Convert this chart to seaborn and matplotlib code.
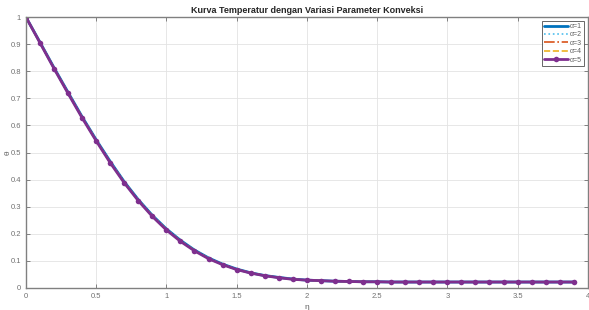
import numpy as np
import pandas as pd
import matplotlib
matplotlib.use("Agg")
import matplotlib.pyplot as plt
import seaborn as sns

# ----- Dati -----
eta = [round(0.1 * i, 1) for i in range(40)]

theta_a5 = [1.000, 0.905, 0.810, 0.718, 0.628, 0.543, 0.462, 0.388, 0.322, 0.264,
            0.214, 0.172, 0.137, 0.108, 0.086, 0.068, 0.055, 0.045, 0.038, 0.032,
            0.029, 0.027, 0.025, 0.024, 0.023, 0.023, 0.022, 0.022, 0.022, 0.022,
            0.022, 0.022, 0.022, 0.022, 0.022, 0.022, 0.022, 0.022, 0.022, 0.022]
theta_a4 = [1.000, 0.905, 0.811, 0.719, 0.629, 0.544, 0.463, 0.389, 0.323, 0.265,
            0.215, 0.173, 0.138, 0.109, 0.086, 0.068, 0.055, 0.045, 0.038, 0.032,
            0.029, 0.027, 0.025, 0.024, 0.023, 0.023, 0.022, 0.022, 0.022, 0.022,
            0.022, 0.022, 0.022, 0.022, 0.022, 0.022, 0.022, 0.022, 0.022, 0.022]
theta_a3 = [1.000, 0.906, 0.811, 0.720, 0.630, 0.545, 0.464, 0.390, 0.324, 0.266,
            0.216, 0.174, 0.139, 0.109, 0.087, 0.069, 0.056, 0.046, 0.038, 0.032,
            0.029, 0.027, 0.025, 0.024, 0.023, 0.023, 0.022, 0.022, 0.022, 0.022,
            0.022, 0.022, 0.022, 0.022, 0.022, 0.022, 0.022, 0.022, 0.022, 0.022]
theta_a2 = [1.000, 0.906, 0.812, 0.721, 0.631, 0.546, 0.466, 0.391, 0.325, 0.267,
            0.217, 0.175, 0.139, 0.110, 0.087, 0.069, 0.056, 0.046, 0.038, 0.033,
            0.029, 0.027, 0.025, 0.024, 0.023, 0.023, 0.022, 0.022, 0.022, 0.022,
            0.022, 0.022, 0.022, 0.022, 0.022, 0.022, 0.022, 0.022, 0.022, 0.022]
theta_a1 = [1.000, 0.907, 0.813, 0.722, 0.632, 0.547, 0.467, 0.392, 0.326, 0.268,
            0.218, 0.176, 0.140, 0.111, 0.088, 0.070, 0.056, 0.046, 0.039, 0.033,
            0.029, 0.027, 0.025, 0.024, 0.023, 0.023, 0.022, 0.022, 0.022, 0.022,
            0.022, 0.022, 0.022, 0.022, 0.022, 0.022, 0.022, 0.022, 0.022, 0.022]

labels = ["α=1", "α=2", "α=3", "α=4", "α=5"]
series = [theta_a1, theta_a2, theta_a3, theta_a4, theta_a5]

# stile tipo MATLAB
colors = ["#0072BD", "#4DBEEE", "#D95319", "#EDB120", "#7E2F8E"]
styles = ["-", ":", "-.", "--", "-"]
markers = [None, None, None, None, "o"]
widths = [2.0, 1.2, 1.2, 1.2, 2.0]


def main():
    sns.set_style("white")
    plt.rcParams["font.family"] = ["Liberation Sans", "DejaVu Sans"]

    fig = plt.figure(figsize=(5.89, 3.10), dpi=100)
    ax = fig.add_axes([0.044, 0.071, 0.954, 0.874])

    for lab, y, c, ls, mk, lw in zip(labels, series, colors, styles, markers, widths):
        df = pd.DataFrame({"eta": eta, "theta": y})
        sns.lineplot(data=df, x="eta", y="theta", ax=ax, color=c, linestyle=ls,
                     marker=mk, markersize=4, markeredgewidth=0, linewidth=lw, label=lab)

    ax.set_xlim(0, 4)
    ax.set_ylim(0, 1)
    ax.set_xticks(np.arange(0, 4.01, 0.5))
    ax.set_xticklabels(["0", "0.5", "1", "1.5", "2", "2.5", "3", "3.5", "4"])
    ax.set_yticks(np.arange(0, 1.01, 0.1))
    ax.set_yticklabels(["0", "0.1", "0.2", "0.3", "0.4", "0.5", "0.6", "0.7", "0.8", "0.9", "1"])
    ax.grid(True, color="#e3e3e3", linewidth=0.6)
    ax.tick_params(axis="both", labelsize=5.5, colors="#707070", direction="in",
                   length=3, width=0.6, top=True, right=True, bottom=True, left=True)
    for s in ax.spines.values():
        s.set_color("#808080")
        s.set_linewidth(1.0)

    ax.set_title("Kurva Temperatur dengan Variasi Parameter Konveksi",
                 fontsize=6.5, fontweight="bold", pad=3)
    ax.set_xlabel("η", fontsize=6, color="#606060", labelpad=3)
    ax.set_ylabel("θ", fontsize=6, color="#606060")
    ax.yaxis.set_label_coords(-0.026, 0.5)

    leg = ax.legend(loc="upper right", fontsize=5, frameon=True, fancybox=False,
                    handlelength=3.4, labelspacing=0.2, borderpad=0.35,
                    handletextpad=0.3, borderaxespad=0.5)
    leg.get_frame().set_edgecolor("#404040")
    leg.get_frame().set_linewidth(0.7)
    for t in leg.get_texts():
        t.set_color("#606060")

    fig.savefig("out.png", dpi=100)


if __name__ == "__main__":
    main()
